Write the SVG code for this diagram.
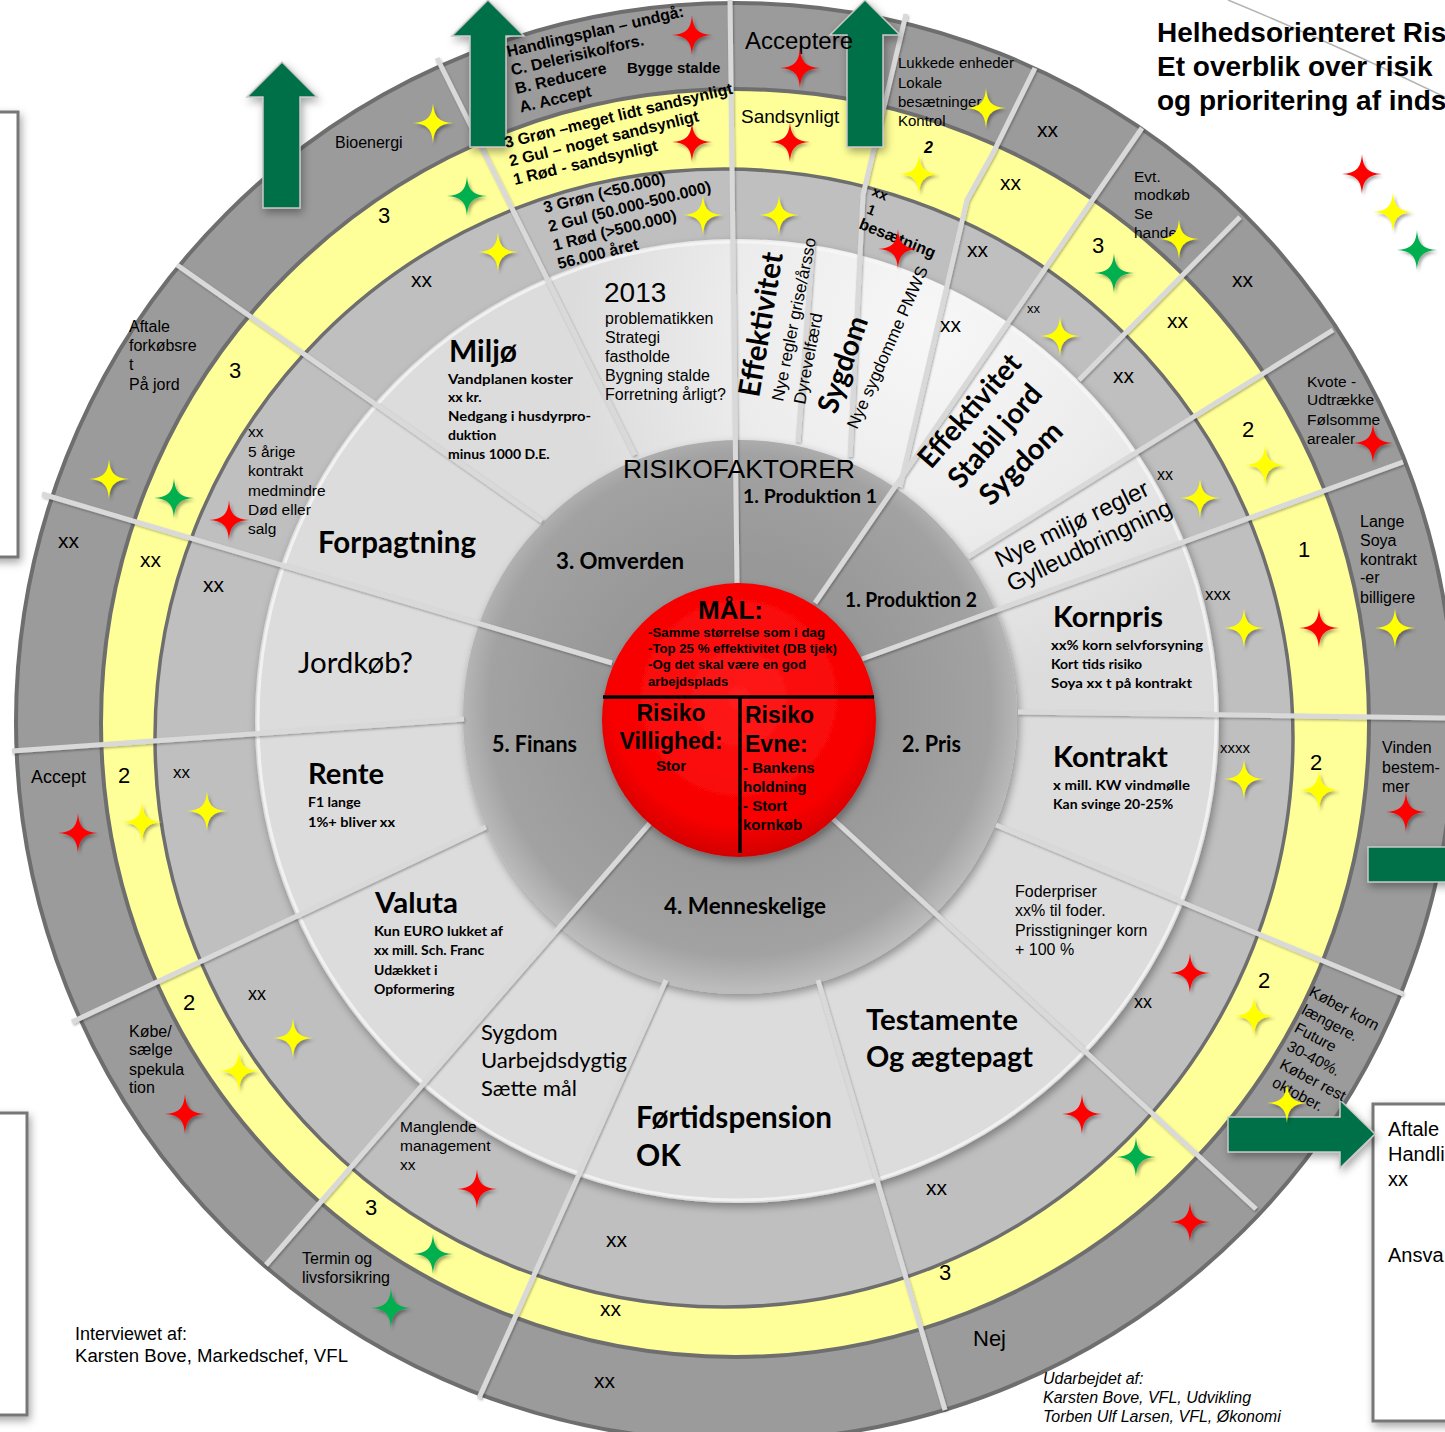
<svg xmlns="http://www.w3.org/2000/svg" width="1445" height="1432" viewBox="0 0 1445 1432">
<defs>
<style>
.a{font-family:"Liberation Sans",Arial,sans-serif;fill:#000}
.c{font-family:Lato,"Liberation Sans",sans-serif;fill:#000}
.b{font-weight:bold}
.it{font-style:italic}
.box{fill:#fff;stroke:#777;stroke-width:3}
.arr{fill:#00704a;stroke:#c8c8c8;stroke-width:1.5}
</style>
<radialGradient id="lg" gradientUnits="userSpaceOnUse" cx="930" cy="330" r="360">
<stop offset="0" stop-color="#f7f7f7"/><stop offset="0.55" stop-color="#ececec"/><stop offset="1" stop-color="#dcdcdc"/>
</radialGradient>
<radialGradient id="dg" gradientUnits="userSpaceOnUse" cx="740" cy="705" r="285">
<stop offset="0.5" stop-color="#989898"/><stop offset="0.88" stop-color="#a2a2a2"/><stop offset="1" stop-color="#bcbcbc"/>
</radialGradient>
<radialGradient id="rg" cx="0.5" cy="0.42" r="0.58">
<stop offset="0" stop-color="#ff1c1c"/><stop offset="0.8" stop-color="#f80000"/><stop offset="1" stop-color="#d20000"/>
</radialGradient>
<filter id="ds" x="-10%" y="-10%" width="125%" height="125%"><feDropShadow dx="2" dy="4" stdDeviation="4" flood-color="#000" flood-opacity="0.35"/></filter>
<filter id="ls" x="-5%" y="-5%" width="110%" height="110%"><feDropShadow dx="1" dy="1.5" stdDeviation="1" flood-color="#000" flood-opacity="0.3"/></filter>
<filter id="ss" x="-10%" y="-10%" width="120%" height="120%"><feDropShadow dx="2" dy="2.5" stdDeviation="1.8" flood-color="#000" flood-opacity="0.35"/></filter>
<path id="st" d="M0,-20 C1,-6 6,-1 20,0 C6,1 1,6 0,20 C-1,6 -6,1 -20,0 C-6,-1 -1,-6 0,-20Z"/>
</defs>
<rect width="1445" height="1432" fill="#fff"/>

<g id="side-boxes" filter="url(#ds)">
<rect class="box" x="-10" y="112" width="28" height="445"/>
<rect class="box" x="-10" y="1113" width="37" height="302"/>
<rect class="box" x="1373" y="1104" width="100" height="317"/>
</g>
<path d="M1228,0 Q1330,42 1445,97" fill="none" stroke="#b4b4b4" stroke-width="1.5"/>

<g id="rings">
<circle cx="735" cy="722" r="719" fill="#9b9b9b" stroke="#6e6e6e" stroke-width="4"/>
<circle cx="735" cy="723" r="634" fill="#ffff99" stroke="#6e6e6e" stroke-width="4"/>
<circle cx="724" cy="738" r="569" fill="#bfbfbf" stroke="#6e6e6e" stroke-width="3.5"/>
<circle cx="737" cy="721" r="482" fill="url(#lg)" filter="url(#ds)"/>
<circle cx="737" cy="721" r="479" fill="none" stroke="#f6f6f6" stroke-width="3" opacity="0.8"/>
<circle cx="740" cy="717" r="277" fill="url(#dg)" filter="url(#ds)"/>
</g>

<g id="connectors" stroke="#d9d9d9" stroke-width="5" fill="none" filter="url(#ls)">
<line x1="737" y1="583" x2="730" y2="0"/>
<line x1="635" y1="455" x2="437" y2="58"/>
<line x1="542" y1="521" x2="177" y2="265"/>
<line x1="612" y1="663" x2="42" y2="494"/>
<line x1="464" y1="719" x2="12" y2="751"/>
<line x1="486" y1="827" x2="72" y2="1022"/>
<line x1="650" y1="823" x2="266" y2="1265"/>
<line x1="666" y1="980" x2="479" y2="1398"/>
<line x1="818" y1="980" x2="945" y2="1410"/>
<line x1="832" y1="818" x2="1256" y2="1209"/>
<line x1="996" y1="825" x2="1403" y2="994"/>
<line x1="1018" y1="712" x2="1445" y2="718"/>
<line x1="862" y1="659" x2="1403" y2="462"/>
<line x1="968" y1="557" x2="1333" y2="330"/>
<line x1="1079" y1="380" x2="1240" y2="217"/>
<line x1="815" y1="603" x2="1142" y2="128"/>
<polyline points="900,487 967,200 993,153 1035,68"/>
<polyline points="850,457 863,195 906,14"/>
<line x1="798" y1="442" x2="813" y2="240"/>
</g>

<g id="goal" filter="url(#ds)">
<circle cx="739" cy="720" r="137" fill="url(#rg)"/>
</g>
<g id="goal-dividers" stroke="#000" stroke-width="3.5">
<line x1="603" y1="697" x2="874" y2="697"/>
<line x1="740" y1="697" x2="740" y2="853"/>
</g>

<g id="arrows" filter="url(#ds)">
<path class="arr" d="M263,208 L263,97 L247,97 L282,62 L317,97 L300,97 L300,208 Z"/>
<path class="arr" d="M470,147 L470,36 L452,36 L488,0 L524,36 L506,36 L506,147 Z"/>
<path class="arr" d="M847,147 L847,35 L830,35 L865,0 L900,35 L883,35 L883,147 Z"/>
<path class="arr" d="M1368,847 L1460,847 L1460,882 L1368,882 Z"/>
<path class="arr" d="M1228,1117 L1340,1117 L1340,1100 L1375,1134 L1340,1168 L1340,1152 L1228,1152 Z"/>
</g>

<g id="title" class="a b" font-size="28">
<text x="1157" y="42">Helhedsorienteret Ris</text>
<text x="1157" y="76">Et overblik over risik</text>
<text x="1157" y="110">og prioritering af inds</text>
</g>

<g id="center-labels">
<text class="a" font-size="26" x="623" y="478" textLength="232" lengthAdjust="spacingAndGlyphs">RISIKOFAKTORER</text>
<text class="c b" font-size="18.5" x="743" y="503" textLength="134" lengthAdjust="spacingAndGlyphs">1. Produktion 1</text>
<text class="c b" font-size="20" x="845" y="607" textLength="132" lengthAdjust="spacingAndGlyphs">1. Produktion 2</text>
<text class="c b" font-size="22" x="556" y="569" textLength="128" lengthAdjust="spacingAndGlyphs">3. Omverden</text>
<text class="c b" font-size="22" x="902" y="752" textLength="59" lengthAdjust="spacingAndGlyphs">2. Pris</text>
<text class="c b" font-size="22" x="492" y="752" textLength="85" lengthAdjust="spacingAndGlyphs">5. Finans</text>
<text class="c b" font-size="22" x="664" y="914" textLength="162" lengthAdjust="spacingAndGlyphs">4. Menneskelige</text>
</g>

<g id="goal-text" class="a b">
<text font-size="25" x="698" y="619" textLength="65" lengthAdjust="spacingAndGlyphs">MÅL:</text>
<text font-size="13" x="648" y="637" textLength="177" lengthAdjust="spacingAndGlyphs">-Samme størrelse som i dag</text>
<text font-size="13" x="648" y="653" textLength="189" lengthAdjust="spacingAndGlyphs">-Top 25 % effektivitet (DB tjek)</text>
<text font-size="13" x="648" y="669" textLength="158" lengthAdjust="spacingAndGlyphs">-Og det skal være en god</text>
<text font-size="13" x="648" y="686">arbejdsplads</text>
<text font-size="23" x="671" y="721" text-anchor="middle">Risiko</text>
<text font-size="23" x="671" y="749" text-anchor="middle">Villighed:</text>
<text font-size="15" x="671" y="771" text-anchor="middle">Stor</text>
<text font-size="23" x="745" y="723">Risiko</text>
<text font-size="23" x="745" y="752">Evne:</text>
<text font-size="15" x="743" y="773">- Bankens</text>
<text font-size="15" x="743" y="792">holdning</text>
<text font-size="15" x="743" y="811">- Stort</text>
<text font-size="15" x="743" y="830">kornkøb</text>
</g>

<g id="sector-labels">
<text class="c b" font-size="30" x="449" y="362" textLength="68" lengthAdjust="spacingAndGlyphs">Miljø</text>
<text class="c b" font-size="14" x="448"><tspan x="448" y="384" textLength="125" lengthAdjust="spacingAndGlyphs">Vandplanen koster</tspan><tspan x="448" y="402">xx kr.</tspan><tspan x="448" y="421" textLength="143" lengthAdjust="spacingAndGlyphs">Nedgang i husdyrpro-</tspan><tspan x="448" y="440">duktion</tspan><tspan x="448" y="459">minus 1000 D.E.</tspan></text>

<text class="a" font-size="28" x="604" y="302">2013</text>
<text class="a" font-size="16"><tspan x="605" y="324">problematikken</tspan><tspan x="605" y="343">Strategi</tspan><tspan x="605" y="362">fastholde</tspan><tspan x="605" y="381">Bygning stalde</tspan><tspan x="605" y="400">Forretning årligt?</tspan></text>

<text class="c b" font-size="30" transform="translate(759,398) rotate(-80.5)" textLength="146" lengthAdjust="spacingAndGlyphs">Effektivitet</text>
<text class="a" font-size="17" transform="translate(783,402) rotate(-78.5)">Nye regler grise/årsso</text>
<text class="a" font-size="17" transform="translate(805,405) rotate(-79)">Dyrevelfærd</text>
<text class="c b" font-size="29" transform="translate(836,415) rotate(-71)" textLength="100" lengthAdjust="spacingAndGlyphs">Sygdom</text>
<text class="a" font-size="17" transform="translate(857,430) rotate(-66)">Nye sygdomme PMWS</text>

<text class="c b" font-size="29" transform="translate(931,470) rotate(-49)" textLength="140" lengthAdjust="spacingAndGlyphs">Effektivitet</text>
<text class="c b" font-size="29" transform="translate(961,490) rotate(-49)" textLength="126" lengthAdjust="spacingAndGlyphs">Stabil jord</text>
<text class="c b" font-size="29" transform="translate(991,507) rotate(-45)" textLength="104" lengthAdjust="spacingAndGlyphs">Sygdom</text>

<text class="a" font-size="24" transform="translate(1000,568) rotate(-26)"><tspan x="0" y="0">Nye miljø regler</tspan><tspan x="0" y="27">Gylleudbringning</tspan></text>

<text class="c b" font-size="29" x="1053" y="627" textLength="110" lengthAdjust="spacingAndGlyphs">Kornpris</text>
<text class="c b" font-size="14"><tspan x="1051" y="650" textLength="152" lengthAdjust="spacingAndGlyphs">xx% korn selvforsyning</tspan><tspan x="1051" y="669">Kort tids risiko</tspan><tspan x="1051" y="688" textLength="141" lengthAdjust="spacingAndGlyphs">Soya xx t på kontrakt</tspan></text>

<text class="c b" font-size="29" x="1053" y="767" textLength="115" lengthAdjust="spacingAndGlyphs">Kontrakt</text>
<text class="c b" font-size="14"><tspan x="1053" y="790" textLength="137" lengthAdjust="spacingAndGlyphs">x mill. KW vindmølle</tspan><tspan x="1053" y="809">Kan svinge 20-25%</tspan></text>

<text class="a" font-size="16"><tspan x="1015" y="897">Foderpriser</tspan><tspan x="1015" y="916">xx% til foder.</tspan><tspan x="1015" y="936">Prisstigninger korn</tspan><tspan x="1015" y="955">+ 100 %</tspan></text>

<text class="c b" font-size="29"><tspan x="866" y="1030" textLength="152" lengthAdjust="spacingAndGlyphs">Testamente</tspan><tspan x="866" y="1067" textLength="167" lengthAdjust="spacingAndGlyphs">Og ægtepagt</tspan></text>

<text class="c b" font-size="30"><tspan x="636" y="1128" textLength="196" lengthAdjust="spacingAndGlyphs">Førtidspension</tspan><tspan x="636" y="1166">OK</tspan></text>

<text class="c" font-size="22"><tspan x="481" y="1040">Sygdom</tspan><tspan x="481" y="1068" textLength="146" lengthAdjust="spacingAndGlyphs">Uarbejdsdygtig</tspan><tspan x="481" y="1096">Sætte mål</tspan></text>

<text class="c b" font-size="29" x="375" y="913" textLength="83" lengthAdjust="spacingAndGlyphs">Valuta</text>
<text class="c b" font-size="14"><tspan x="374" y="936" textLength="129" lengthAdjust="spacingAndGlyphs">Kun EURO lukket af</tspan><tspan x="374" y="955">xx mill. Sch. Franc</tspan><tspan x="374" y="975">Udækket i</tspan><tspan x="374" y="994">Opformering</tspan></text>

<text class="c b" font-size="29" x="308" y="784" textLength="76" lengthAdjust="spacingAndGlyphs">Rente</text>
<text class="c b" font-size="14"><tspan x="308" y="807">F1 lange</tspan><tspan x="308" y="827" textLength="87" lengthAdjust="spacingAndGlyphs">1%+ bliver xx</tspan></text>

<text class="c" font-size="29" x="298" y="673" textLength="115" lengthAdjust="spacingAndGlyphs">Jordkøb?</text>
<text class="c b" font-size="30" x="318" y="553" textLength="158" lengthAdjust="spacingAndGlyphs">Forpagtning</text>
</g>

<g id="ring-notes">
<text class="a b" font-size="16" transform="translate(508,57) rotate(-13)"><tspan x="0" y="0">Handlingsplan – undgå:</tspan><tspan x="0" y="19">C. Delerisiko/fors.</tspan><tspan x="0" y="38">B. Reducere</tspan><tspan x="0" y="57">A. Accept</tspan></text>
<text class="a b" font-size="15" x="627" y="73">Bygge stalde</text>
<text class="a b" font-size="16" transform="translate(506,148) rotate(-13.5)"><tspan x="0" y="0">3 Grøn –meget lidt sandsynligt</tspan><tspan x="0" y="19">2 Gul – noget sandsynligt</tspan><tspan x="0" y="38">1 Rød - sandsynligt</tspan></text>
<text class="a b" font-size="16" transform="translate(545,213) rotate(-14)"><tspan x="0" y="0">3 Grøn (&lt;50.000)</tspan><tspan x="0" y="19.5">2 Gul (50.000-500.000)</tspan><tspan x="0" y="39">1 Rød (&gt;500.000)</tspan><tspan x="0" y="58">56.000 året</tspan></text>

<text class="a" font-size="24" x="745" y="49">Acceptere</text>
<text class="a" font-size="19" x="741" y="123">Sandsynligt</text>
<text class="a" font-size="15"><tspan x="898" y="68">Lukkede enheder</tspan><tspan x="898" y="88">Lokale</tspan><tspan x="898" y="107">besætninger</tspan><tspan x="898" y="126">Kontrol</tspan></text>
<text class="a b it" font-size="16" x="924" y="153">2</text>
<text class="a b" font-size="14" transform="translate(871,195) rotate(22)">xx</text>
<text class="a b" font-size="14" transform="translate(866,213) rotate(22)">1</text>
<text class="a b" font-size="16" transform="translate(858,228) rotate(22)">besætning</text>

<text class="a" font-size="16" x="335" y="148">Bioenergi</text>
<text class="a" font-size="16"><tspan x="129" y="332">Aftale</tspan><tspan x="129" y="351">forkøbsre</tspan><tspan x="129" y="370">t</tspan><tspan x="129" y="390">På jord</tspan></text>
<text class="a" font-size="15.5"><tspan x="248" y="437">xx</tspan><tspan x="248" y="457">5 årige</tspan><tspan x="248" y="476">kontrakt</tspan><tspan x="248" y="496">medmindre</tspan><tspan x="248" y="515">Død eller</tspan><tspan x="248" y="534">salg</tspan></text>
<text class="a" font-size="18" x="31" y="783">Accept</text>
<text class="a" font-size="16"><tspan x="129" y="1037">Købe/</tspan><tspan x="129" y="1055">sælge</tspan><tspan x="129" y="1075">spekula</tspan><tspan x="129" y="1093">tion</tspan></text>
<text class="a" font-size="16"><tspan x="302" y="1264">Termin og</tspan><tspan x="302" y="1283">livsforsikring</tspan></text>
<text class="a" font-size="15.5"><tspan x="400" y="1132">Manglende</tspan><tspan x="400" y="1151">management</tspan><tspan x="400" y="1170">xx</tspan></text>
<text class="a" font-size="22" x="973" y="1346">Nej</text>
<text class="a" font-size="15.5" transform="translate(1308,995) rotate(28)"><tspan x="0" y="0">Køber korn</tspan><tspan x="2" y="19.5">længere.</tspan><tspan x="4" y="39">Future</tspan><tspan x="6" y="58.5">30-40%.</tspan><tspan x="8" y="78">Køber rest</tspan><tspan x="10" y="97.5">oktober.</tspan></text>
<text class="a" font-size="16"><tspan x="1382" y="753">Vinden</tspan><tspan x="1382" y="773">bestem-</tspan><tspan x="1382" y="792">mer</tspan></text>
<text class="a" font-size="16"><tspan x="1360" y="527">Lange</tspan><tspan x="1360" y="546">Soya</tspan><tspan x="1360" y="565">kontrakt</tspan><tspan x="1360" y="583">-er</tspan><tspan x="1360" y="603">billigere</tspan></text>
<text class="a" font-size="15.5"><tspan x="1307" y="387">Kvote -</tspan><tspan x="1307" y="405">Udtrække</tspan><tspan x="1307" y="425">Følsomme</tspan><tspan x="1307" y="444">arealer</tspan></text>
<text class="a" font-size="15.5"><tspan x="1134" y="182">Evt.</tspan><tspan x="1134" y="200">modkøb</tspan><tspan x="1134" y="219">Se</tspan><tspan x="1134" y="238">handel</tspan></text>
</g>

<g id="scores" class="a" font-size="21">
<text x="1037" y="137">xx</text>
<text x="1232" y="287">xx</text>
<text x="58" y="548">xx</text>
<text x="594" y="1388">xx</text>
<text x="1000" y="190">xx</text>
<text x="1167" y="328">xx</text>
<text x="140" y="567">xx</text>
<text x="600" y="1316">xx</text>
<text x="967" y="257">xx</text>
<text x="1113" y="383">xx</text>
<text x="411" y="287">xx</text>
<text x="203" y="592">xx</text>
<text x="606" y="1247">xx</text>
<text x="926" y="1195">xx</text>
<text x="940" y="332">xx</text>
<text font-size="13" x="1027" y="313">xx</text>
<text font-size="16" x="1157" y="480">xx</text>
<text font-size="17" x="1205" y="600">xxx</text>
<text font-size="15" x="1220" y="753">xxxx</text>
<text font-size="18" x="1134" y="1008">xx</text>
<text font-size="17" x="173" y="778">xx</text>
<text font-size="18" x="248" y="1000">xx</text>
<g font-size="22">
<text x="378" y="223">3</text>
<text x="229" y="378">3</text>
<text x="1092" y="253">3</text>
<text x="1242" y="437">2</text>
<text x="1298" y="557">1</text>
<text x="1310" y="770">2</text>
<text x="1258" y="988">2</text>
<text x="939" y="1280">3</text>
<text x="365" y="1215">3</text>
<text x="183" y="1010">2</text>
<text x="118" y="783">2</text>
</g>
</g>

<g id="credits" class="a">
<text font-size="18" x="75" y="1340">Interviewet af:</text>
<text font-size="18" x="75" y="1362" textLength="273" lengthAdjust="spacingAndGlyphs">Karsten Bove, Markedschef, VFL</text>
<text class="it" font-size="16"><tspan x="1043" y="1384">Udarbejdet af:</tspan><tspan x="1043" y="1403">Karsten Bove, VFL, Udvikling</tspan><tspan x="1043" y="1422">Torben Ulf Larsen, VFL, Økonomi</tspan></text>
<text font-size="20"><tspan x="1388" y="1136">Aftale</tspan><tspan x="1388" y="1161">Handli</tspan><tspan x="1388" y="1186">xx</tspan><tspan x="1388" y="1262">Ansva</tspan></text>
</g>

<g id="stars" filter="url(#ss)">
<g fill="#ff0000">
<use href="#st" x="692" y="35"/><use href="#st" x="800" y="68"/><use href="#st" x="692" y="142"/><use href="#st" x="790" y="142"/><use href="#st" x="898" y="249"/><use href="#st" x="1373" y="443"/><use href="#st" x="1319" y="628"/><use href="#st" x="1406" y="812"/><use href="#st" x="1190" y="973"/><use href="#st" x="1082" y="1114"/><use href="#st" x="1190" y="1222"/><use href="#st" x="229" y="520"/><use href="#st" x="78" y="833"/><use href="#st" x="185" y="1114"/><use href="#st" x="477" y="1189"/><use href="#st" x="1362" y="174"/>
</g>
<g fill="#ffff00">
<use href="#st" x="433" y="123"/><use href="#st" x="986" y="108"/><use href="#st" x="919" y="174"/><use href="#st" x="703" y="215"/><use href="#st" x="779" y="215"/><use href="#st" x="498" y="252"/><use href="#st" x="1179" y="239"/><use href="#st" x="1060" y="336"/><use href="#st" x="1265" y="465"/><use href="#st" x="1200" y="498"/><use href="#st" x="1244" y="628"/><use href="#st" x="1395" y="628"/><use href="#st" x="1244" y="779"/><use href="#st" x="1319" y="790"/><use href="#st" x="1254" y="1016"/><use href="#st" x="1287" y="1103"/><use href="#st" x="109" y="479"/><use href="#st" x="142" y="822"/><use href="#st" x="207" y="811"/><use href="#st" x="293" y="1038"/><use href="#st" x="239" y="1071"/><use href="#st" x="1393" y="212"/>
</g>
<g fill="#00b050">
<use href="#st" x="467" y="196"/><use href="#st" x="1114" y="273"/><use href="#st" x="1136" y="1157"/><use href="#st" x="174" y="498"/><use href="#st" x="433" y="1254"/><use href="#st" x="391" y="1308"/><use href="#st" x="1417" y="250"/>
</g>
</g>
</svg>
